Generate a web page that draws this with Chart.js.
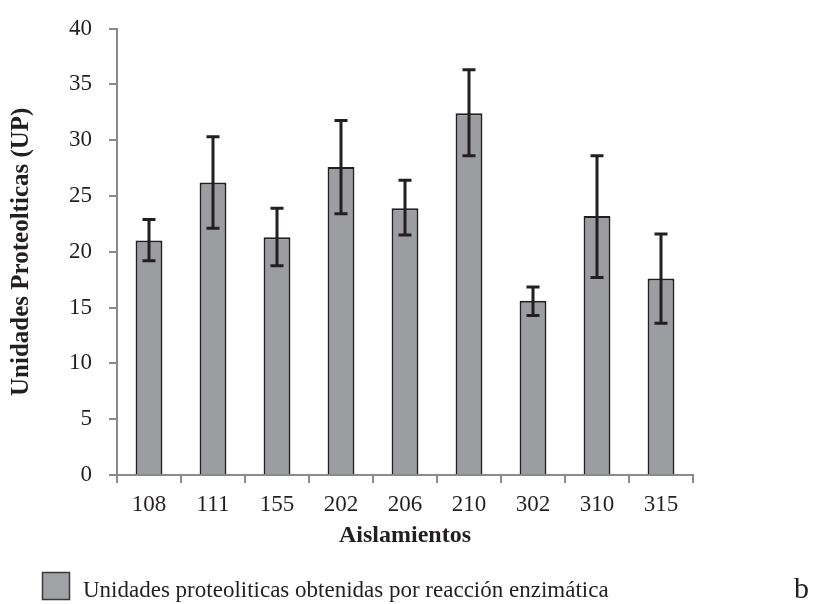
<!DOCTYPE html>
<html>
<head>
<meta charset="utf-8">
<script src="https://cdn.jsdelivr.net/npm/chart.js@4/dist/chart.umd.min.js"></script>
<style>
    html, body { margin: 0; padding: 0; background: #fff; }
    #wrap { position: relative; width: 814px; height: 604px; }
</style>
</head>
<body>
<div id="wrap"><canvas id="upChart" width="814" height="604"></canvas></div>
<script>
const categories = ["108", "111", "155", "202", "206", "210", "302", "310", "315"];
const upValues = [21.0, 26.2, 21.3, 27.6, 23.9, 32.4, 15.6, 23.2, 17.6];
const errUpper = [22.9, 30.3, 23.9, 31.75, 26.4, 36.3, 16.85, 28.6, 21.6];
const errLower = [19.2, 22.1, 18.75, 23.4, 21.5, 28.6, 14.3, 17.7, 13.6];
const yTicks = [0, 5, 10, 15, 20, 25, 30, 35, 40];

const seriesLabel = "Unidades proteoliticas obtenidas por reacción enzimática";
const serif = "'Liberation Serif', 'DejaVu Serif', serif";
const ink = "#231f20";
const axisGray = "#8a8a8a";

// error bars drawn through the y scale
const errorBars = {
    id: "errorBars",
    afterDatasetsDraw(chart) {
        const ctx = chart.ctx;
        const y = chart.scales.y;
        const meta = chart.getDatasetMeta(0);
        ctx.save();
        ctx.strokeStyle = ink;
        ctx.lineWidth = 3;
        meta.data.forEach((bar, i) => {
            const top = y.getPixelForValue(errUpper[i]);
            const bottom = y.getPixelForValue(errLower[i]);
            ctx.beginPath();
            ctx.moveTo(bar.x, top);
            ctx.lineTo(bar.x, bottom);
            ctx.moveTo(bar.x - 6.5, top);
            ctx.lineTo(bar.x + 6.5, top);
            ctx.moveTo(bar.x - 6.5, bottom);
            ctx.lineTo(bar.x + 6.5, bottom);
            ctx.stroke();
        });
        ctx.restore();
    },
};

// legend row and panel letter
const bottomLegend = {
    id: "bottomLegend",
    afterDraw(chart) {
        const ctx = chart.ctx;
        ctx.save();
        ctx.fillStyle = "#a1a2a5";
        ctx.fillRect(42, 572, 28, 28);
        ctx.strokeStyle = "#3a3a3a";
        ctx.lineWidth = 1.5;
        ctx.strokeRect(42.5, 572.5, 27, 27);
        ctx.fillStyle = ink;
        ctx.font = "23px " + serif;
        ctx.textBaseline = "alphabetic";
        ctx.fillText(chart.data.datasets[0].label, 83, 597);
        ctx.font = "30px " + serif;
        ctx.fillText("b", 794, 598);
        ctx.restore();
    },
};

new Chart(document.getElementById("upChart").getContext("2d"), {
    type: "bar",

    data: {
        labels: categories,

        datasets: [
            {
                label: seriesLabel,
                data: upValues,
                backgroundColor: "#9c9da1",
                borderColor: ink,
                borderWidth: 2,
                borderSkipped: "start",
                barPercentage: 0.42,
                categoryPercentage: 1,
            },
        ],
    },

    options: {
        responsive: false,
        animation: false,
        layout: {
            padding: { left: 0, right: 121, top: 27, bottom: 50 },
        },
        scales: {
            x: {
                offset: true,
                grid: {
                    offset: true,
                    drawOnChartArea: false,
                    color: axisGray,
                    lineWidth: 2,
                    tickLength: 8,
                },
                border: { color: axisGray, width: 2, z: 1 },
                ticks: {
                    color: ink,
                    font: { family: serif, size: 23 },
                    padding: 8,
                },
                title: {
                    display: true,
                    text: "Aislamientos",
                    color: ink,
                    font: { family: serif, size: 24, weight: "bold" },
                    padding: { top: 2, bottom: 4 },
                },
                afterFit(scale) {
                    scale.height = 79;
                },
            },
            y: {
                min: 0,
                max: 40,
                afterBuildTicks(scale) {
                    scale.ticks = yTicks.map((v) => ({ value: v }));
                },
                grid: {
                    drawOnChartArea: false,
                    color: axisGray,
                    lineWidth: 2,
                    tickLength: 8,
                },
                border: { color: axisGray, width: 2 },
                ticks: {
                    color: ink,
                    font: { family: serif, size: 23, lineHeight: 1 },
                    padding: 17,
                },
                title: {
                    display: true,
                    text: "Unidades Proteolticas (UP)",
                    color: ink,
                    font: { family: serif, size: 25, weight: "bold" },
                    padding: { top: 7 },
                },
                afterFit(scale) {
                    scale.width = 117;
                },
            },
        },
        plugins: {
            legend: { display: false },
            tooltip: { enabled: false },
        },
    },

    plugins: [errorBars, bottomLegend],
});
</script>
</body>
</html>
